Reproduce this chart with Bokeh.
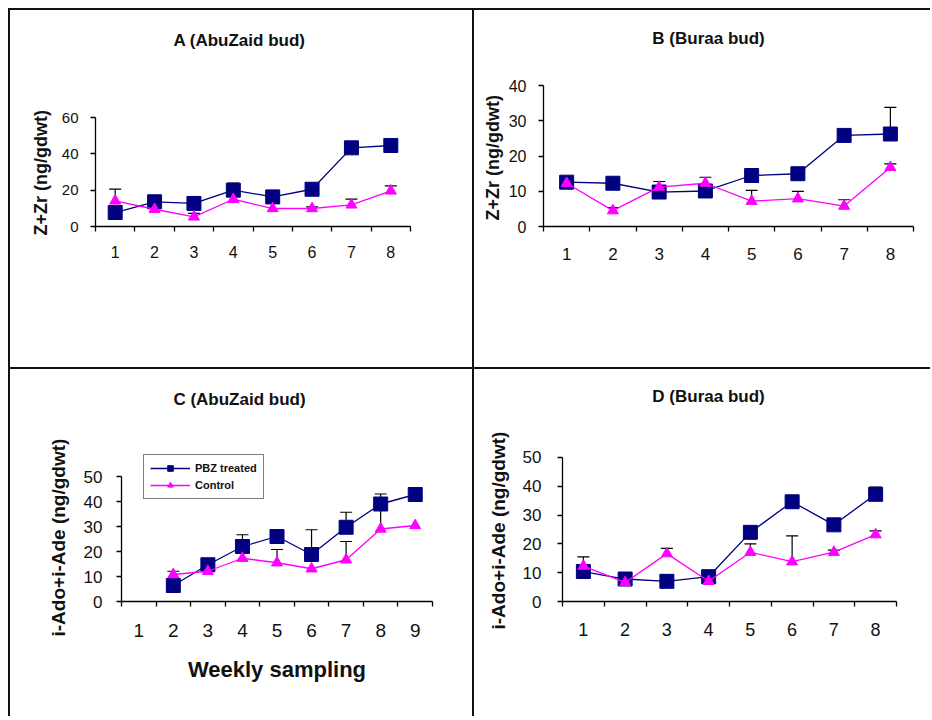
import math
from bokeh.plotting import figure
from bokeh.models import FixedTicker, Legend, LegendItem, Div, Label, Range1d, Title
from bokeh.layouts import column, row
from bokeh.embed import file_html
from bokeh.resources import INLINE

FONT = "Liberation Sans"
NAVY = "#000080"
MAGENTA = "#FF00FF"
NAN = float("nan")

# ---------------- data ----------------
weeks_A = [1, 2, 3, 4, 5, 6, 7, 8]
pbz_A = [7.7, 13.6, 12.7, 20.0, 16.3, 20.5, 43.3, 44.6]
ctrl_A = [14.1, 9.5, 5.3, 15.0, 9.9, 9.9, 11.9, 19.6]
pbz_A_err = [None, None, None, 3.9, None, None, None, None]
ctrl_A_err = [6.5, None, 1.9, None, None, 0.9, 3.2, 2.8]

weeks_B = [1, 2, 3, 4, 5, 6, 7, 8]
pbz_B = [12.6, 12.3, 9.8, 10.1, 14.5, 15.0, 25.9, 26.3]
ctrl_B = [12.3, 4.5, 11.2, 12.3, 7.2, 7.9, 5.8, 16.8]
pbz_B_err = [None, None, None, None, None, None, None, 7.6]
ctrl_B_err = [None, 0.9, 1.6, 1.7, 3.1, 2.1, 1.8, 1.0]

weeks_C = [1, 2, 3, 4, 5, 6, 7, 8, 9]
pbz_C = [NAN, 6.4, 14.7, 22.0, 26.0, 18.8, 29.7, 39.0, 42.8]
ctrl_C = [NAN, 10.8, 12.1, 17.3, 15.5, 13.1, 16.7, 29.0, 30.4]
pbz_C_err = [None, 5.7, 2.3, 4.7, None, 9.9, 6.0, 4.0, None]
ctrl_C_err = [None, None, None, None, 5.3, None, 7.3, 9.0, None]

weeks_D = [1, 2, 3, 4, 5, 6, 7, 8]
pbz_D = [10.4, 7.8, 7.0, 8.6, 24.0, 34.6, 26.6, 37.2]
ctrl_D = [12.3, 6.6, 16.6, 7.0, 17.1, 13.8, 17.1, 23.2]
pbz_D_err = [None, None, None, None, None, None, None, 2.5]
ctrl_D_err = [3.2, None, 1.8, None, 2.9, 9.0, 0.7, 1.3]

series_names = ["PBZ treated", "Control"]


def err_bars(p, weeks, vals, errs):
    xs, y0, y1 = [], [], []
    for w, v, e in zip(weeks, vals, errs):
        if e is None or (isinstance(v, float) and math.isnan(v)):
            continue
        xs.append(w)
        y0.append(v)
        y1.append(v + e)
    if xs:
        p.segment(x0=xs, y0=y0, x1=xs, y1=y1, line_color="black", line_width=1.2)
        p.scatter(xs, y1, marker="dash", size=12, line_color="black", line_width=1.2)


def panel(weeks, pbz, ctrl, pbz_err, ctrl_err, ymax, ystep, title, ylabel,
          w, h, bl, br, axis_top, axis_bottom, tick_fs, xtick_fs, ylab_fs,
          ylab_standoff, ylab_offset, ytick_standoff, xtick_standoff, title_xy,
          xlabel=None, legend=False):
    bt = 4
    bb = h - axis_bottom
    frame_h = h - bt - bb
    y_end = ymax * frame_h / (axis_bottom - axis_top)
    p = figure(width=w, height=h, output_backend="svg", toolbar_location=None,
               x_range=Range1d(weeks[0] - 0.5, weeks[-1] + 0.5),
               y_range=Range1d(0, y_end),
               min_border_left=bl, min_border_right=br,
               min_border_top=bt, min_border_bottom=bb)
    p.outline_line_color = None
    p.xgrid.visible = False
    p.ygrid.visible = False
    p.background_fill_color = "white"
    p.border_fill_color = "white"

    p.add_layout(Label(x=title_xy[0], y=title_xy[1], x_units="screen",
                       y_units="screen", text=title, text_align="center",
                       text_baseline="middle", text_font=FONT,
                       text_font_size="17px", text_font_style="bold",
                       text_color="#111111"))

    ax = p.xaxis[0]
    ax.ticker = FixedTicker(ticks=weeks,
                            minor_ticks=[x - 0.5 for x in weeks] + [weeks[-1] + 0.5])
    ax.major_tick_line_color = None
    ax.major_tick_out = 0
    ax.major_tick_in = 0
    ax.minor_tick_line_color = "black"
    ax.minor_tick_line_width = 1.3
    ax.minor_tick_out = 5
    ax.minor_tick_in = 0
    ax.axis_line_color = "black"
    ax.axis_line_width = 1.3
    ax.major_label_text_font = FONT
    ax.major_label_text_font_size = xtick_fs
    ax.major_label_text_color = "#111111"
    ax.major_label_standoff = xtick_standoff
    if xlabel:
        ax.axis_label = xlabel
        ax.axis_label_text_font = FONT
        ax.axis_label_text_font_size = "22px"
        ax.axis_label_text_font_style = "bold"
        ax.axis_label_text_color = "#111111"
        ax.axis_label_standoff = 17

    ay = p.yaxis[0]
    ay.ticker = FixedTicker(ticks=list(range(0, ymax + 1, ystep)))
    ay.bounds = (0, ymax)
    ay.major_tick_line_color = "black"
    ay.major_tick_line_width = 1.3
    ay.major_tick_out = 5
    ay.major_tick_in = 0
    ay.minor_tick_line_color = None
    ay.axis_line_color = "black"
    ay.axis_line_width = 1.3
    ay.major_label_text_font = FONT
    ay.major_label_text_font_size = tick_fs
    ay.major_label_text_color = "#111111"
    ay.major_label_standoff = ytick_standoff

    # y-axis title, placed along the 0..ymax part of the axis
    p.add_layout(Title(text=ylabel, align="left", offset=ylab_offset,
                       standoff=ylab_standoff, text_font=FONT,
                       text_font_size=ylab_fs, text_font_style="bold",
                       text_color="#111111"), "left")

    err_bars(p, weeks, pbz, pbz_err)
    err_bars(p, weeks, ctrl, ctrl_err)

    l1 = p.line(weeks, pbz, line_color=NAVY, line_width=1.3)
    m1 = p.scatter(weeks, pbz, marker="square", size=14, fill_color=NAVY,
                   line_color=NAVY)
    l2 = p.line(weeks, ctrl, line_color=MAGENTA, line_width=1.3)
    m2 = p.scatter(weeks, ctrl, marker="triangle", size=11, fill_color=MAGENTA,
                   line_color=MAGENTA)

    if legend:
        lg = Legend(items=[LegendItem(label=series_names[0], renderers=[l1, m1]),
                           LegendItem(label=series_names[1], renderers=[l2, m2])],
                    location=(22, 102), orientation="vertical",
                    label_text_font=FONT, label_text_font_size="11px",
                    label_text_font_style="bold", label_text_color="#111111",
                    glyph_width=40, glyph_height=14, label_height=14,
                    label_standoff=5, padding=6, spacing=3, margin=0,
                    border_line_color="black", border_line_width=1.5,
                    background_fill_color="white", background_fill_alpha=1.0)
        p.add_layout(lg, "center")
    return p


pA = panel(weeks_A, pbz_A, ctrl_A, pbz_A_err, ctrl_A_err, 60, 20,
           "A (AbuZaid bud)", "Z+Zr (ng/gdwt)",
           462, 357, 85, 62, 107, 216, "15px", "16px", "18px", 16, -9, 12, 14,
           (144, 186))
pB = panel(weeks_B, pbz_B, ctrl_B, pbz_B_err, ctrl_B_err, 40, 10,
           "B (Buraa bud)", "Z+Zr (ng/gdwt)",
           450, 357, 69, 11, 76, 218, "16px", "17px", "18px", 6, 6, 12, 16,
           (165, 188))
pC = panel(weeks_C, pbz_C, ctrl_C, pbz_C_err, ctrl_C_err, 50, 10,
           "C (AbuZaid bud)", "i-Ado+i-Ade (ng/gdwt)",
           462, 347, 111, 40, 107, 232, "17px", "19px", "19px", 24, -35, 14, 17,
           (118, 202), xlabel="Weekly sampling", legend=True)
pD = panel(weeks_D, pbz_D, ctrl_D, pbz_D_err, ctrl_D_err, 50, 10,
           "D (Buraa bud)", "i-Ado+i-Ade (ng/gdwt)",
           450, 347, 87, 28, 89, 235, "17px", "18px", "19px", 22, -28, 16, 16,
           (146, 205))


def vline(h):
    return Div(text="", width=2, height=h, margin=0,
               styles={"background-color": "#111111"})


def hline(w):
    return Div(text="", width=w, height=2, margin=0,
               styles={"background-color": "#111111"})


layout = column(
    hline(922),
    row(vline(357), pA, vline(357), pB, spacing=0),
    hline(922),
    row(vline(347), pC, vline(347), pD, spacing=0),
    spacing=0,
    margin=(8, 0, 0, 8),
)

open("out.html", "w").write(file_html(layout, INLINE))
